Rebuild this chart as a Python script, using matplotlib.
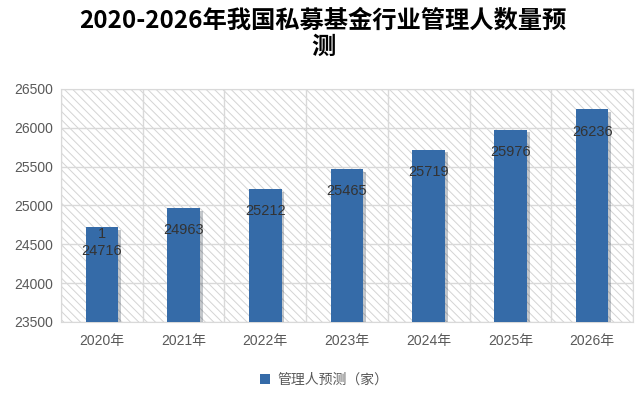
import matplotlib
matplotlib.use("Agg")
import matplotlib.pyplot as plt
import matplotlib.patheffects as pe
from matplotlib.patches import Rectangle

# data
years = ["2020年", "2021年", "2022年", "2023年", "2024年", "2025年", "2026年"]
managers = [24716, 24963, 25212, 25465, 25719, 25976, 26236]
bar_labels = ["1\n24716", "24963", "25212", "25465", "25719", "25976", "26236"]
y_ticks = [23500, 24000, 24500, 25000, 25500, 26000, 26500]

fonts = ["Liberation Sans", "Noto Sans CJK SC", "DejaVu Sans"]
plt.rcParams["font.family"] = fonts
plt.rcParams["hatch.linewidth"] = 0.7
plt.rcParams["hatch.color"] = "#d4d4d4"

bar_color = "#356ba8"
grid_color = "#d9d9d9"
tick_color = "#595959"

fig = plt.figure(figsize=(6.42, 3.95), dpi=100)
ax = fig.add_axes([0.095, 0.185, 0.891, 0.59])

# hatched plot background
bg = Rectangle((0, 0), 1, 1, transform=ax.transAxes, facecolor="white",
               edgecolor="#d4d4d4", hatch="\\\\\\\\", linewidth=0, zorder=0)
ax.add_patch(bg)

x = list(range(len(years)))
bars = ax.bar(x, managers, width=0.4, color=bar_color, zorder=3,
              path_effects=[pe.SimplePatchShadow(offset=(2, -2), alpha=0.25), pe.Normal()])

ax.set_ylim(y_ticks[0], y_ticks[-1])
ax.set_xlim(-0.5, len(years) - 0.5)
ax.set_yticks(y_ticks)
ax.set_xticks(x)
ax.set_xticklabels(years)

# grid: horizontal at ticks, vertical at category boundaries
for yv in y_ticks:
    ax.axhline(yv, color=grid_color, linewidth=1, zorder=1)
for xv in range(len(years) + 1):
    ax.axvline(xv - 0.5, color=grid_color, linewidth=1, zorder=1)

for s in ax.spines.values():
    s.set_color(grid_color)
ax.tick_params(length=0, colors=tick_color, labelsize=10, pad=6)
ax.tick_params(axis="x", pad=9)

for xi, v, lab in zip(x, managers, bar_labels):
    off = -11 if "\n" in lab else -16
    ax.annotate(lab, (xi, v), xytext=(0, off), textcoords="offset points",
                ha="center", va="center", fontsize=10.5, color="#333333",
                linespacing=1.3, zorder=5)

fig.suptitle("2020-2026年我国私募基金行业管理人数量预\n测", x=0.503, y=0.978,
             fontsize=17.5, fontweight="bold", family=["Noto Sans CJK SC"],
             linespacing=1.12)

handle = Rectangle((0, 0), 1, 1, facecolor=bar_color)
fig.legend([handle], ["管理人预测（家）"], loc="center", bbox_to_anchor=(0.505, 0.038),
           frameon=False, labelcolor=tick_color, handlelength=0.7,
           handleheight=0.7, handletextpad=0.5, prop={"family": ["Noto Sans CJK SC"], "size": 10})

fig.savefig("out.png", dpi=100)
